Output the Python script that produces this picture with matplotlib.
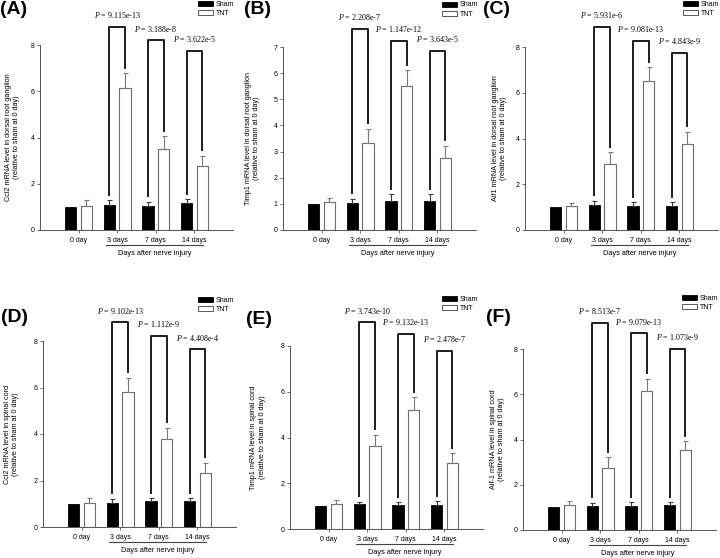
"""Six-panel bar chart: Ccl2 / Timp1 / Aif1 mRNA in DRG and spinal cord after nerve injury."""

import matplotlib

matplotlib.use("Agg")
import matplotlib.pyplot as plt  # noqa: E402
import numpy as np  # noqa: E402
from matplotlib.patches import Patch  # noqa: E402

plt.rcParams["font.family"] = "Liberation Sans"
plt.rcParams["mathtext.fontset"] = "custom"
plt.rcParams["mathtext.it"] = "Liberation Serif:italic"
plt.rcParams["mathtext.rm"] = "Liberation Serif"

GROUPS = ["0 day", "3 days", "7 days", "14 days"]

# (A) Ccl2, dorsal root ganglion
CCL2_DRG_SHAM = [1.0, 1.1, 1.05, 1.15]
CCL2_DRG_SHAM_ERR = [0.0, 0.18, 0.17, 0.18]
CCL2_DRG_TNT = [1.05, 6.12, 3.5, 2.75]
CCL2_DRG_TNT_ERR = [0.25, 0.65, 0.55, 0.47]
CCL2_DRG_BRACKETS = [8.77, 8.2, 7.76]
CCL2_DRG_P = ["9.115e-13", "3.188e-8", "3.622e-5"]

# (B) Timp1, dorsal root ganglion
TIMP1_DRG_SHAM = [1.0, 1.05, 1.1, 1.1]
TIMP1_DRG_SHAM_ERR = [0.0, 0.15, 0.26, 0.26]
TIMP1_DRG_TNT = [1.07, 3.32, 5.5, 2.75]
TIMP1_DRG_TNT_ERR = [0.17, 0.56, 0.62, 0.48]
TIMP1_DRG_BRACKETS = [7.68, 7.22, 6.85]
TIMP1_DRG_P = ["2.208e-7", "1.147e-12", "3.643e-5"]

# (C) Aif1, dorsal root ganglion
AIF1_DRG_SHAM = [1.0, 1.1, 1.05, 1.07]
AIF1_DRG_SHAM_ERR = [0.0, 0.17, 0.17, 0.15]
AIF1_DRG_TNT = [1.03, 2.9, 6.5, 3.75]
AIF1_DRG_TNT_ERR = [0.17, 0.5, 0.62, 0.55]
AIF1_DRG_BRACKETS = [8.88, 8.27, 7.75]
AIF1_DRG_P = ["5.931e-6", "9.081e-13", "4.843e-9"]

# (D) Ccl2, spinal cord
CCL2_SC_SHAM = [1.0, 1.05, 1.1, 1.1]
CCL2_SC_SHAM_ERR = [0.0, 0.16, 0.14, 0.14]
CCL2_SC_TNT = [1.03, 5.8, 3.77, 2.33]
CCL2_SC_TNT_ERR = [0.2, 0.62, 0.5, 0.43]
CCL2_SC_BRACKETS = [8.8, 8.22, 7.64]
CCL2_SC_P = ["9.102e-13", "1.112e-9", "4.408e-4"]

# (E) Timp1, spinal cord
TIMP1_SC_SHAM = [1.0, 1.08, 1.05, 1.05]
TIMP1_SC_SHAM_ERR = [0.0, 0.12, 0.13, 0.17]
TIMP1_SC_TNT = [1.1, 3.65, 5.22, 2.88]
TIMP1_SC_TNT_ERR = [0.17, 0.47, 0.53, 0.44]
TIMP1_SC_BRACKETS = [9.03, 8.52, 7.79]
TIMP1_SC_P = ["3.743e-10", "9.132e-13", "2.478e-7"]

# (F) Aif-1, spinal cord
AIF1_SC_SHAM = [1.0, 1.05, 1.05, 1.1]
AIF1_SC_SHAM_ERR = [0.0, 0.15, 0.17, 0.14]
AIF1_SC_TNT = [1.1, 2.76, 6.13, 3.53]
AIF1_SC_TNT_ERR = [0.16, 0.46, 0.56, 0.4]
AIF1_SC_BRACKETS = [9.15, 8.69, 7.99]
AIF1_SC_P = ["8.513e-7", "9.079e-13", "1.073e-9"]

FIG_W, FIG_H = 720, 558
AX_W = 193
OUTPUT_PATH = "out.png"


def draw_panel(ax, h_px, sham, sham_err, tnt, tnt_err, brackets, pvals, ymax, ystep, ylabel):
    x = np.arange(1, len(GROUPS) + 1)
    sham, sham_err = np.asarray(sham), np.asarray(sham_err)
    tnt, tnt_err = np.asarray(tnt), np.asarray(tnt_err)

    ax.bar(x - 0.2, sham, 0.29, color="black", edgecolor="black", linewidth=0.6, zorder=2)
    ax.bar(x + 0.2, tnt, 0.29, color="white", edgecolor="#6b6b6b", linewidth=0.8, zorder=2)
    for xs, vals, errs, col in ((x - 0.2, sham, sham_err, "#3a3a3a"),
                                (x + 0.2, tnt, tnt_err, "#7a7a7a")):
        m = errs > 0
        ax.errorbar(xs[m], vals[m], yerr=[np.zeros(m.sum()), errs[m]], fmt="none",
                    ecolor=col, elinewidth=0.8, capsize=1.8, capthick=0.8, zorder=3)

    # significance brackets between Sham and TNT
    gap = 0.03 * ymax
    for i, (top, p) in enumerate(zip(brackets, pvals), start=1):
        xl, xr = x[i] - 0.2, x[i] + 0.2
        ax.plot([xl, xl, xr, xr],
                [sham[i] + sham_err[i] + gap, top, top, tnt[i] + tnt_err[i] + gap],
                color="#1c1c1c", lw=1.4, clip_on=False, zorder=4)
        ax.annotate(f"$P$ = {p}", xy=(x[i], top), xytext=(0, 8.5), textcoords="offset points",
                    ha="center", va="center", fontsize=5.8, family="Liberation Serif",
                    annotation_clip=False)

    ax.set_xlim(0, 5)
    ax.set_ylim(0, ymax)
    ax.set_yticks(np.arange(0, ymax + 0.01, ystep))
    ax.set_xticks(x, GROUPS)
    ax.tick_params(axis="both", direction="out", length=2, width=0.6, labelsize=5,
                   color="#555555", pad=2)
    ax.tick_params(axis="x", pad=3)
    for side in ("top", "right"):
        ax.spines[side].set_visible(False)
    for side in ("left", "bottom"):
        ax.spines[side].set_color("#555555")
        ax.spines[side].set_linewidth(0.7)

    trans = ax.get_xaxis_transform()
    ax.plot([1.7, 4.23], [-15 / h_px] * 2, transform=trans, color="#444444", lw=0.8,
            clip_on=False)
    ax.text(2.965, -23.5 / h_px, "Days after nerve injury", transform=trans,
            ha="center", va="center", fontsize=5.3)
    ax.set_ylabel(ylabel, fontsize=5.2, linespacing=1.25)


def run() -> None:
    fig = plt.figure(figsize=(FIG_W / 100, FIG_H / 100), dpi=100)

    panels = [
        ("(A)", CCL2_DRG_SHAM, CCL2_DRG_SHAM_ERR, CCL2_DRG_TNT, CCL2_DRG_TNT_ERR,
         CCL2_DRG_BRACKETS, CCL2_DRG_P, 8, 2,
         "Ccl2 mRNA level in dorsal root ganglion\n(relative to sham at 0 day)"),
        ("(B)", TIMP1_DRG_SHAM, TIMP1_DRG_SHAM_ERR, TIMP1_DRG_TNT, TIMP1_DRG_TNT_ERR,
         TIMP1_DRG_BRACKETS, TIMP1_DRG_P, 7, 1,
         "Timp1 mRNA level in dorsal root ganglion\n(relative to sham at 0 day)"),
        ("(C)", AIF1_DRG_SHAM, AIF1_DRG_SHAM_ERR, AIF1_DRG_TNT, AIF1_DRG_TNT_ERR,
         AIF1_DRG_BRACKETS, AIF1_DRG_P, 8, 2,
         "Aif1 mRNA level in dorsal root ganglion\n(relative to sham at 0 day)"),
        ("(D)", CCL2_SC_SHAM, CCL2_SC_SHAM_ERR, CCL2_SC_TNT, CCL2_SC_TNT_ERR,
         CCL2_SC_BRACKETS, CCL2_SC_P, 8, 2,
         "Ccl2 mRNA level in spinal cord\n(relative to sham at 0 day)"),
        ("(E)", TIMP1_SC_SHAM, TIMP1_SC_SHAM_ERR, TIMP1_SC_TNT, TIMP1_SC_TNT_ERR,
         TIMP1_SC_BRACKETS, TIMP1_SC_P, 8, 2,
         "Timp1 mRNA level in spinal cord\n(relative to sham at 0 day)"),
        ("(F)", AIF1_SC_SHAM, AIF1_SC_SHAM_ERR, AIF1_SC_TNT, AIF1_SC_TNT_ERR,
         AIF1_SC_BRACKETS, AIF1_SC_P, 8, 2,
         "Aif-1 mRNA level in spinal cord\n(relative to sham at 0 day)"),
    ]
    # pixel layout: axes left, y of zero, y of top, panel-label xy, legend xy, ylabel centre x
    layout = [
        (40, 230, 45, (0, 9), (198, 1), 12.5),
        (283, 230, 47, (244, 9), (442, 1.5), 252),
        (525, 230, 47, (483, 9), (683, 1), 499),
        (43, 527, 341, (1, 318), (198, 297), 11),
        (290, 529, 346, (246, 319), (442, 296), 257.5),
        (523, 530, 349, (486, 318), (682, 295), 497),
    ]

    handles = [Patch(facecolor="black", edgecolor="black", linewidth=0.6),
               Patch(facecolor="white", edgecolor="#555555", linewidth=0.7)]

    for (tag, *data), (left, y0, ytop, lab_xy, leg_xy, ylab_x) in zip(panels, layout):
        h_px = y0 - ytop
        ax = fig.add_axes([left / FIG_W, 1 - y0 / FIG_H, AX_W / FIG_W, h_px / FIG_H])
        draw_panel(ax, h_px, *data)
        ax.yaxis.set_label_coords((ylab_x + 8 - left) / AX_W, 0.5)
        ax.legend(handles, ["Sham", "TNT"], loc="upper left",
                  bbox_to_anchor=(leg_xy[0] / FIG_W, 1 - leg_xy[1] / FIG_H),
                  bbox_transform=fig.transFigure, frameon=False, fontsize=5,
                  handlelength=2.2, handleheight=0.75, labelspacing=0.3,
                  handletextpad=0.4, borderpad=0, borderaxespad=0)
        fig.text(lab_xy[0] / FIG_W, 1 - lab_xy[1] / FIG_H, tag, fontsize=14,
                 fontweight="bold", ha="left", va="center")

    fig.savefig(OUTPUT_PATH, dpi=100)
    plt.close(fig)


if __name__ == "__main__":
    run()
